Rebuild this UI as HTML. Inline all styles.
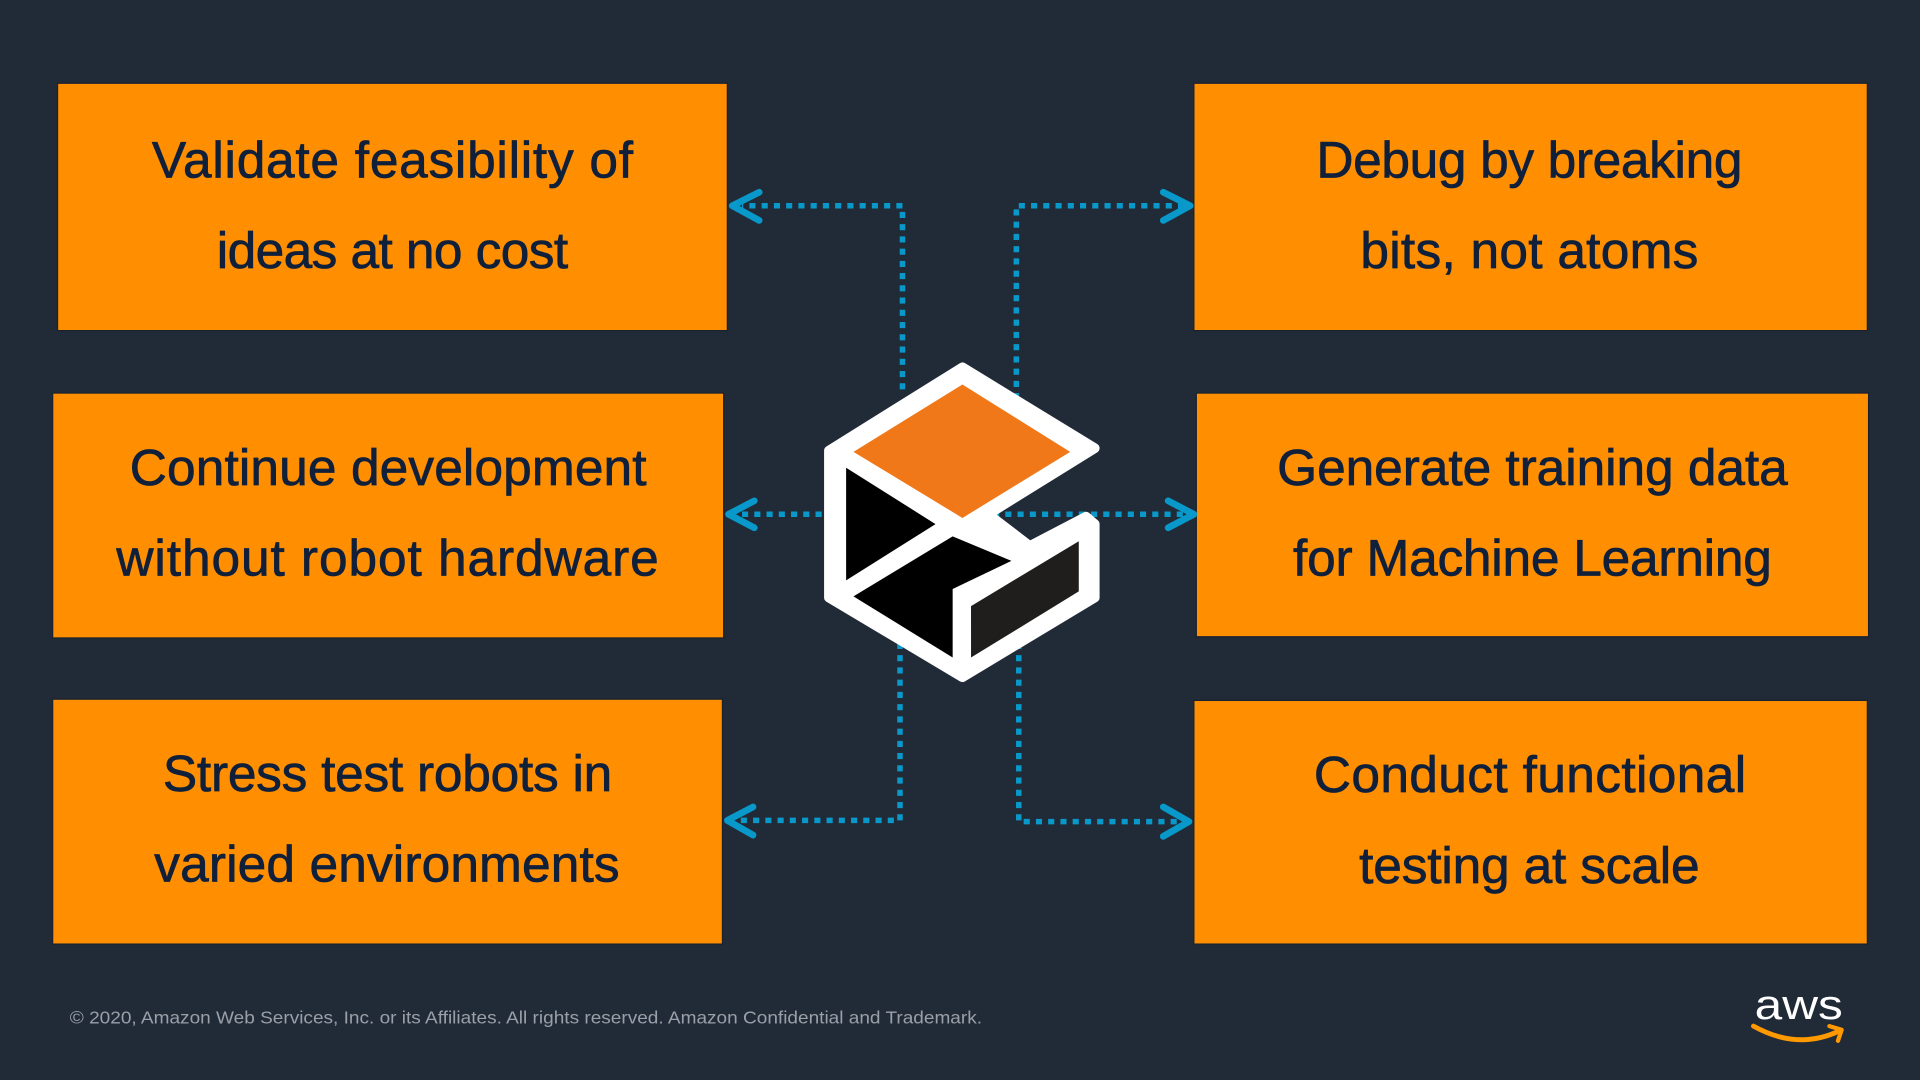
<!DOCTYPE html>
<html><head><meta charset="utf-8"><style>
html,body{margin:0;padding:0;background:#212a37;}
svg{display:block;}
text{font-family:"Liberation Sans",sans-serif;}
</style></head><body>
<svg width="1920" height="1080" viewBox="0 0 1568 882" preserveAspectRatio="none" xmlns="http://www.w3.org/2000/svg">
<rect width="1568" height="882" fill="#212a37"/>
<g fill="#ff8f00" stroke="#1a2230" stroke-width="1">
<rect x="47" y="68" width="547" height="202"/>
<rect x="975" y="68" width="550" height="202"/>
<rect x="43" y="321" width="548" height="200"/>
<rect x="977" y="321" width="549" height="199"/>
<rect x="43" y="571" width="547" height="200"/>
<rect x="975" y="572" width="550" height="199"/>
</g>
<g fill="#10203a" stroke="#10203a" stroke-width="0.6" font-size="42" lengthAdjust="spacingAndGlyphs">
<text x="124" y="145" textLength="393">Validate feasibility of</text>
<text x="177" y="219" textLength="287">ideas at no cost</text>
<text x="1075" y="145" textLength="348">Debug by breaking</text>
<text x="1111" y="219" textLength="276">bits, not atoms</text>
<text x="106" y="396" textLength="422">Continue development</text>
<text x="95" y="470" textLength="443">without robot hardware</text>
<text x="1043" y="396" textLength="417">Generate training data</text>
<text x="1056" y="470" textLength="391">for Machine Learning</text>
<text x="133" y="646" textLength="367">Stress test robots in</text>
<text x="126" y="720" textLength="380">varied environments</text>
<text x="1073" y="647" textLength="353">Conduct functional</text>
<text x="1110" y="721" textLength="278">testing at scale</text>
</g>
<g fill="none" stroke="#0898c9" stroke-width="4.5" stroke-dasharray="5 5">
<path d="M737 318 V168 H606"/>
<path d="M830 326 V168 H966"/>
<path d="M671 420 H600"/>
<path d="M811 420 H968"/>
<path d="M735 525 V670 H600"/>
<path d="M832 525 V671 H966"/>
</g>
<g fill="none" stroke="#0898c9" stroke-width="5.5" stroke-linecap="round" stroke-linejoin="round">
<path d="M620 157 L598 168 L620 180"/>
<path d="M950 157 L972 168 L950 180"/>
<path d="M616 409 L595 420 L616 431"/>
<path d="M954 409 L975 420 L954 431"/>
<path d="M615 659 L594 670 L615 682"/>
<path d="M950 659 L971 671 L950 683"/>
</g>
<polygon points="786,300 894,366 807,420 841,446 887,422 894,428 894,488 786,553 677,488 677,368" fill="#fff" stroke="#fff" stroke-width="8" stroke-linejoin="round"/>
<polygon points="786,314 874,369 786,423 697,369" fill="#f07818"/>
<polygon points="691,382 764,428 691,474" fill="#000"/>
<polygon points="697,487 778,438 826,458 778,481 778,537" fill="#000"/>
<polygon points="793,495 881,442 881,483 793,537" fill="#1f1e1c"/>
<text x="57" y="836" font-size="14" fill="#9aa0a8" textLength="745" lengthAdjust="spacingAndGlyphs">© 2020, Amazon Web Services, Inc. or its Affiliates. All rights reserved. Amazon Confidential and Trademark.</text>
<text x="1433" y="832" font-size="34" fill="#fff" textLength="72" lengthAdjust="spacingAndGlyphs">aws</text>
<path d="M1432 838 Q1468 858 1502 842" fill="none" stroke="#ff9900" stroke-width="4" stroke-linecap="round"/>
<path d="M1494 838 L1504 841 L1501 850" fill="none" stroke="#ff9900" stroke-width="3.5" stroke-linecap="round" stroke-linejoin="round"/>
</svg>
</body></html>
